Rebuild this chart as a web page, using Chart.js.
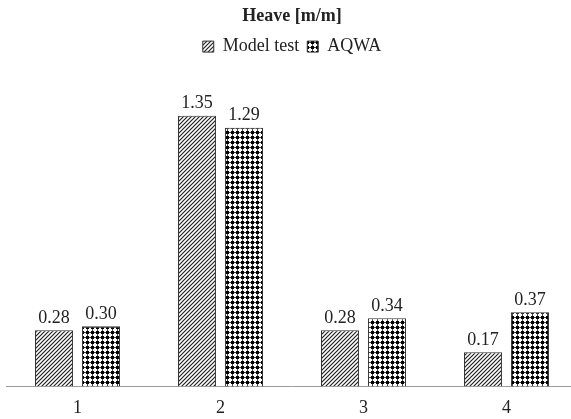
<!DOCTYPE html>
<html>
<head>
<meta charset="utf-8">
<script src="https://cdn.jsdelivr.net/npm/chart.js@4/dist/chart.umd.min.js"></script>
<style>
  html, body { margin: 0; padding: 0; background: #fff; overflow: hidden; }
  #wrap { width: 578px; height: 422px; }
</style>
</head>
<body>
<div id="wrap"><canvas id="chart"></canvas></div>
<script>
const categories = ['1', '2', '3', '4'];
const modelTest = [0.28, 1.35, 0.28, 0.17];
const aqwa = [0.30, 1.29, 0.34, 0.37];

const serif = "'Liberation Serif', 'Times New Roman', serif";

// diagonal hatch like Excel's wide upward diagonal
function hatchPattern(ctx) {
    const c = document.createElement('canvas');
    c.width = 4; c.height = 4;
    const x = c.getContext('2d');
    x.fillStyle = '#fff';
    x.fillRect(0, 0, 4, 4);
    x.strokeStyle = '#222';
    x.lineWidth = 1.2;
    x.beginPath();
    x.moveTo(-1, 5); x.lineTo(5, -1);
    x.moveTo(-3, 3); x.lineTo(3, -3);
    x.moveTo(1, 7); x.lineTo(7, 1);
    x.stroke();
    return ctx.createPattern(c, 'repeat');
}

// dotted grid pattern
function dotPattern(ctx) {
    const c = document.createElement('canvas');
    c.width = 5; c.height = 5;
    const x = c.getContext('2d');
    x.fillStyle = '#fff';
    x.fillRect(0, 0, 5, 5);
    x.fillStyle = '#444';
    x.fillRect(0, 2, 5, 1);
    x.fillRect(2, 0, 1, 5);
    x.fillStyle = '#000';
    x.fillRect(1, 1, 3, 3);
    return ctx.createPattern(c, 'repeat');
}

const ctx = document.getElementById('chart').getContext('2d');

// values written above each bar
const valueLabels = {
    id: 'valueLabels',
    afterDatasetsDraw(chart) {
        const c = chart.ctx;
        c.save();
        c.font = '18px ' + serif;
        c.fillStyle = '#222';
        c.textAlign = 'center';
        c.textBaseline = 'bottom';
        chart.data.datasets.forEach((ds, i) => {
            chart.getDatasetMeta(i).data.forEach((bar, j) => {
                c.fillText(ds.data[j].toFixed(2), bar.x, bar.y - 3);
            });
        });
        c.restore();
    }
};

new Chart(ctx, {
    type: 'bar',
    data: {
        labels: categories,
        datasets: [{
            label: 'Model test',
            data: modelTest,
            backgroundColor: hatchPattern(ctx),
            borderColor: '#333',
            borderWidth: 1
        }, {
            label: 'AQWA',
            data: aqwa,
            backgroundColor: dotPattern(ctx),
            borderColor: '#333',
            borderWidth: 1
        }]
    },
    options: {
        responsive: true,
        maintainAspectRatio: false,
        animation: false,
        layout: { padding: { left: 6, right: 0, top: 4, bottom: 0 } },
        datasets: {
            bar: { categoryPercentage: 0.657, barPercentage: 0.81 }
        },
        plugins: {
            title: {
                display: true,
                text: 'Heave [m/m]',
                color: '#222',
                font: { family: serif, size: 18, weight: 'bold' },
                padding: { top: 2, bottom: 2 }
            },
            legend: {
                display: true,
                labels: {
                    color: '#222',
                    font: { family: serif, size: 18 },
                    boxWidth: 11,
                    boxHeight: 11,
                    padding: 8
                }
            },
            tooltip: { enabled: false }
        },
        scales: {
            x: {
                grid: { display: false },
                border: { display: true, color: '#9a9a9a', width: 1 },
                ticks: {
                    color: '#222',
                    font: { family: serif, size: 18 },
                    padding: 3
                }
            },
            y: {
                display: false,
                min: 0,
                max: 1.6
            }
        }
    },
    plugins: [valueLabels]
});
</script>
</body>
</html>
